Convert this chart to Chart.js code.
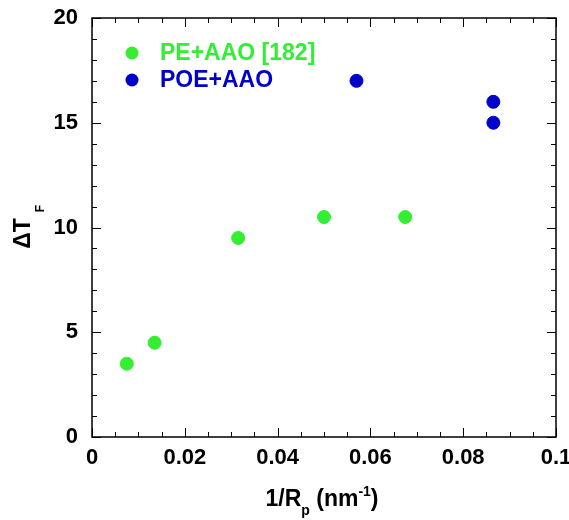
<!DOCTYPE html>
<html>
<head>
<meta charset="utf-8">
<script src="https://cdn.jsdelivr.net/npm/chart.js@4.4.0/dist/chart.umd.min.js"></script>
<style>
  body { margin: 0; background: #fff; }
  #wrap { width: 569px; height: 520px; }
</style>
</head>
<body>
<div id="wrap"><canvas id="chart" width="569" height="520"></canvas></div>
<script>
// data
const peLabel = "PE+AAO [182]";
const peX = [0.0075, 0.0135, 0.0315, 0.05, 0.0675];
const peY = [3.5, 4.5, 9.5, 10.5, 10.5];

const poeLabel = "POE+AAO";
const poeX = [0.057, 0.0865, 0.0865];
const poeY = [17, 16, 15];

const xMin = 0, xMax = 0.1, xStep = 0.02, xMinor = 0.005;
const yMin = 0, yMax = 20, yStep = 5, yMinor = 1;

const green = "#33ee33";
const blue = "#0000cc";
const fontFam = "'Liberation Sans', Arial, sans-serif";

function toPoints(xs, ys) {
    return xs.map((x, i) => ({ x: x, y: ys[i] }));
}

// inward ticks on all four sides, plus frame, legend and axis titles
const framePlugin = {
    id: "frame",
    afterDraw(chart) {
        const ctx = chart.ctx;
        const a = chart.chartArea;
        const xs = chart.scales.x, ys = chart.scales.y;
        ctx.save();
        ctx.strokeStyle = "#000";
        ctx.lineWidth = 1.5;
        ctx.strokeRect(a.left, a.top, a.right - a.left, a.bottom - a.top);

        ctx.lineWidth = 1;
        ctx.beginPath();
        const nx = Math.round((xMax - xMin) / xMinor);
        for (let i = 0; i <= nx; i++) {
            const px = Math.round(xs.getPixelForValue(xMin + i * xMinor)) + 0.5;
            const len = i % 4 === 0 ? 9 : 5;
            ctx.moveTo(px, a.bottom); ctx.lineTo(px, a.bottom - len);
            ctx.moveTo(px, a.top); ctx.lineTo(px, a.top + len);
        }
        const ny = Math.round((yMax - yMin) / yMinor);
        for (let i = 0; i <= ny; i++) {
            const py = Math.round(ys.getPixelForValue(yMin + i * yMinor)) + 0.5;
            const len = i % 5 === 0 ? 9 : 5;
            ctx.moveTo(a.left, py); ctx.lineTo(a.left + len, py);
            ctx.moveTo(a.right, py); ctx.lineTo(a.right - len, py);
        }
        ctx.stroke();

        // legend
        const items = chart.data.datasets;
        ctx.font = "bold 23px " + fontFam;
        ctx.textBaseline = "middle";
        items.forEach((d, i) => {
            const y = 53 + i * 27;
            ctx.fillStyle = d.backgroundColor;
            ctx.beginPath();
            ctx.arc(132, y, 6.5, 0, Math.PI * 2);
            ctx.fill();
            ctx.fillText(d.label, 160, y + 1);
        });

        // x title: 1/R_p (nm^-1)
        ctx.fillStyle = "#000";
        ctx.textBaseline = "alphabetic";
        const big = "bold 23px " + fontFam, small = "bold 14px " + fontFam;
        const parts = [
            { t: "1/R", f: big, dy: 0 },
            { t: "p", f: small, dy: 9 },
            { t: " (nm", f: big, dy: 0 },
            { t: "-1", f: small, dy: -10 },
            { t: ")", f: big, dy: 0 }
        ];
        let total = 0;
        parts.forEach(p => { ctx.font = p.f; p.w = ctx.measureText(p.t).width; total += p.w; });
        let x0 = 322 - total / 2;
        parts.forEach(p => {
            ctx.font = p.f;
            ctx.fillText(p.t, x0, 506 + p.dy);
            x0 += p.w;
        });

        // y title: ΔT_F rotated
        ctx.save();
        ctx.translate(30, 233.5);
        ctx.rotate(-Math.PI / 2);
        ctx.font = "bold 23px " + fontFam;
        const w1 = ctx.measureText("\u0394T").width;
        ctx.fillText("\u0394T", -w1 / 2, 0);
        ctx.font = "bold 12px " + fontFam;
        ctx.fillText("F", w1 / 2 + 6, 13.5);
        ctx.restore();

        ctx.restore();
    }
};

new Chart(document.getElementById("chart"), {
    type: "scatter",
    data: {
        datasets: [
            {
                label: peLabel,
                data: toPoints(peX, peY),
                backgroundColor: green,
                borderColor: green,
                pointRadius: 6.5,
                pointHoverRadius: 6.5
            },
            {
                label: poeLabel,
                data: toPoints(poeX, poeY),
                backgroundColor: blue,
                borderColor: blue,
                pointRadius: 6.5,
                pointHoverRadius: 6.5
            }
        ]
    },
    options: {
        responsive: false,
        animation: false,
        devicePixelRatio: 1,
        layout: { padding: { top: 18, right: 13, left: 0, bottom: 0 } },
        plugins: {
            legend: { display: false },
            tooltip: { enabled: false }
        },
        scales: {
            x: {
                type: "linear",
                min: xMin,
                max: xMax,
                grid: { display: false, drawTicks: false },
                border: { display: false },
                ticks: {
                    stepSize: xStep,
                    padding: 8,
                    color: "#000",
                    font: { family: fontFam, size: 22, weight: "bold" },
                    maxRotation: 0,
                    callback: v => String(Number(v.toFixed(3)))
                },
                afterFit: s => { s.height = 83; s.paddingLeft = 0; s.paddingRight = 0; }
            },
            y: {
                type: "linear",
                min: yMin,
                max: yMax,
                grid: { display: false, drawTicks: false },
                border: { display: false },
                ticks: {
                    stepSize: yStep,
                    padding: 14,
                    color: "#000",
                    font: { family: fontFam, size: 22, weight: "bold" }
                },
                afterFit: s => { s.width = 92; s.paddingTop = 0; s.paddingBottom = 0; }
            }
        }
    },
    plugins: [framePlugin]
});
</script>
</body>
</html>
